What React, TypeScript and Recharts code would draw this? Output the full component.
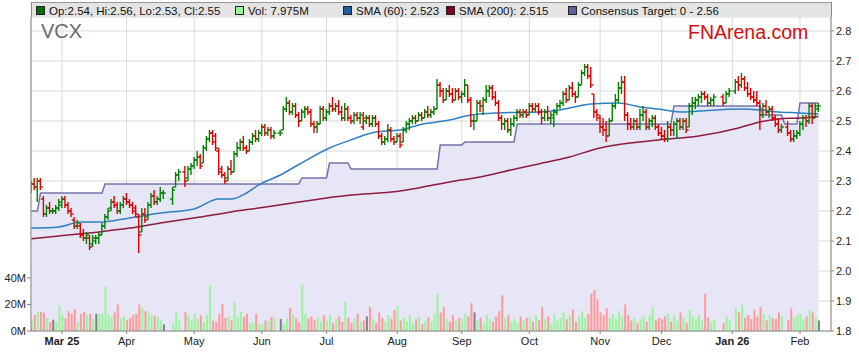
import { ComposedChart, Bar, Line, Area, XAxis, YAxis, CartesianGrid } from 'recharts'

// one entry per weekday, [open, high, low, close]; null = ASX holiday
type Ohlc = [number, number, number, number] | null

const feb25: Ohlc[] = [
  [2.27, 2.30, 2.26, 2.29], [2.29, 2.31, 2.27, 2.28], [2.28, 2.31, 2.23, 2.30], [2.30, 2.31, 2.27, 2.28],
  [2.24, 2.25, 2.18, 2.19], [2.19, 2.22, 2.18, 2.21], [2.21, 2.23, 2.19, 2.20], [2.20, 2.21, 2.19, 2.20],
  [2.20, 2.22, 2.19, 2.21], [2.21, 2.24, 2.20, 2.23],
]
const mar25: Ohlc[] = [
  [2.22, 2.25, 2.21, 2.24], [2.24, 2.25, 2.21, 2.22], [2.22, 2.23, 2.19, 2.20], [2.20, 2.21, 2.18, 2.19],
  [2.17, 2.18, 2.14, 2.15], [2.15, 2.17, 2.14, 2.16], [2.15, 2.16, 2.11, 2.12], [2.12, 2.14, 2.10, 2.11],
  [2.11, 2.13, 2.09, 2.12], [2.11, 2.12, 2.07, 2.08], [2.09, 2.12, 2.08, 2.11], [2.10, 2.12, 2.09, 2.11],
  [2.11, 2.13, 2.09, 2.12], [2.12, 2.16, 2.12, 2.15], [2.15, 2.19, 2.14, 2.18], [2.18, 2.21, 2.17, 2.20],
  [2.21, 2.24, 2.20, 2.23], [2.23, 2.25, 2.21, 2.22], [2.22, 2.23, 2.19, 2.20], [2.20, 2.23, 2.19, 2.22],
  [2.22, 2.25, 2.21, 2.24],
]
const apr25: Ohlc[] = [
  [2.24, 2.26, 2.22, 2.23], [2.23, 2.24, 2.21, 2.22], [2.22, 2.23, 2.19, 2.20], [2.21, 2.22, 2.18, 2.19],
  [2.18, 2.19, 2.06, 2.12], [2.13, 2.21, 2.13, 2.19], [2.19, 2.21, 2.16, 2.17], [2.18, 2.23, 2.17, 2.22],
  [2.22, 2.26, 2.21, 2.25], [2.25, 2.27, 2.22, 2.23], [2.23, 2.25, 2.22, 2.24], [2.24, 2.28, 2.23, 2.26],
  [2.26, 2.27, 2.24, 2.26], null, null, [2.24, 2.28, 2.22, 2.27],
  [2.28, 2.33, 2.28, 2.32], [2.32, 2.34, 2.30, 2.33], null, [2.33, 2.35, 2.28, 2.30],
  [2.31, 2.35, 2.30, 2.34], [2.34, 2.36, 2.32, 2.35],
]
const may25: Ohlc[] = [
  [2.35, 2.38, 2.34, 2.37], [2.37, 2.40, 2.35, 2.38], [2.38, 2.39, 2.34, 2.35], [2.36, 2.42, 2.36, 2.41],
  [2.41, 2.45, 2.40, 2.44], [2.44, 2.47, 2.43, 2.46], [2.46, 2.47, 2.42, 2.43], [2.45, 2.46, 2.40, 2.41],
  [2.40, 2.41, 2.32, 2.33], [2.34, 2.35, 2.31, 2.32], [2.32, 2.33, 2.29, 2.30], [2.31, 2.35, 2.30, 2.34],
  [2.34, 2.37, 2.32, 2.33], [2.33, 2.40, 2.33, 2.39], [2.39, 2.43, 2.38, 2.41], [2.41, 2.44, 2.40, 2.43],
  [2.43, 2.45, 2.40, 2.41], [2.41, 2.42, 2.39, 2.40], [2.40, 2.44, 2.40, 2.43], [2.43, 2.46, 2.42, 2.45],
  [2.45, 2.47, 2.43, 2.44], [2.44, 2.47, 2.43, 2.46],
]
const jun25: Ohlc[] = [
  [2.46, 2.49, 2.45, 2.48], [2.48, 2.49, 2.45, 2.46], [2.46, 2.48, 2.45, 2.47], [2.47, 2.48, 2.44, 2.45],
  [2.45, 2.47, 2.44, 2.46], null, [2.46, 2.47, 2.45, 2.46], [2.47, 2.55, 2.47, 2.54],
  [2.54, 2.58, 2.53, 2.56], [2.56, 2.57, 2.52, 2.53], [2.53, 2.56, 2.52, 2.55], [2.55, 2.56, 2.51, 2.52],
  [2.52, 2.53, 2.48, 2.50], [2.50, 2.54, 2.50, 2.53], [2.53, 2.55, 2.51, 2.54], [2.54, 2.55, 2.52, 2.53],
  [2.53, 2.54, 2.48, 2.49], [2.49, 2.50, 2.46, 2.48], [2.48, 2.50, 2.46, 2.49], [2.49, 2.55, 2.49, 2.54],
  [2.54, 2.55, 2.50, 2.51],
]
const jul25: Ohlc[] = [
  [2.51, 2.54, 2.50, 2.53], [2.53, 2.56, 2.52, 2.55], [2.55, 2.58, 2.53, 2.54], [2.54, 2.56, 2.53, 2.55],
  [2.55, 2.57, 2.52, 2.53], [2.53, 2.55, 2.50, 2.51], [2.51, 2.56, 2.50, 2.54], [2.54, 2.55, 2.50, 2.51],
  [2.51, 2.52, 2.49, 2.50], [2.50, 2.53, 2.49, 2.52], [2.52, 2.53, 2.50, 2.51], [2.51, 2.53, 2.49, 2.52],
  [2.48, 2.53, 2.47, 2.51], [2.50, 2.52, 2.49, 2.51], [2.51, 2.52, 2.48, 2.49], [2.49, 2.52, 2.48, 2.51],
  [2.51, 2.52, 2.48, 2.49], [2.49, 2.50, 2.44, 2.45], [2.45, 2.46, 2.42, 2.43], [2.43, 2.45, 2.42, 2.44],
  [2.44, 2.49, 2.43, 2.47], [2.47, 2.48, 2.43, 2.44], [2.44, 2.45, 2.42, 2.43],
]
const aug25: Ohlc[] = [
  [2.43, 2.46, 2.43, 2.45], [2.45, 2.46, 2.41, 2.42], [2.43, 2.48, 2.43, 2.47], [2.47, 2.50, 2.46, 2.49],
  [2.49, 2.51, 2.47, 2.50], [2.50, 2.52, 2.49, 2.51], [2.51, 2.52, 2.49, 2.50], [2.50, 2.53, 2.50, 2.52],
  [2.52, 2.53, 2.50, 2.51], [2.51, 2.54, 2.51, 2.53], [2.53, 2.55, 2.51, 2.52], [2.52, 2.54, 2.51, 2.53],
  [2.53, 2.55, 2.52, 2.54], [2.54, 2.64, 2.54, 2.62], [2.62, 2.63, 2.58, 2.60], [2.60, 2.61, 2.56, 2.57],
  [2.57, 2.61, 2.57, 2.60], [2.60, 2.62, 2.58, 2.59], [2.59, 2.61, 2.56, 2.57], [2.57, 2.61, 2.57, 2.60],
  [2.60, 2.61, 2.57, 2.58],
]
const sep25: Ohlc[] = [
  [2.58, 2.60, 2.56, 2.59], [2.59, 2.64, 2.58, 2.62], [2.62, 2.62, 2.56, 2.57], [2.57, 2.58, 2.48, 2.50],
  [2.50, 2.52, 2.47, 2.50], [2.50, 2.57, 2.50, 2.56], [2.56, 2.57, 2.53, 2.55], [2.55, 2.58, 2.52, 2.57],
  [2.57, 2.62, 2.56, 2.60], [2.60, 2.62, 2.58, 2.61], [2.61, 2.62, 2.57, 2.58], [2.58, 2.60, 2.55, 2.56],
  [2.56, 2.57, 2.50, 2.51], [2.51, 2.52, 2.47, 2.49], [2.49, 2.51, 2.47, 2.50], [2.50, 2.51, 2.46, 2.47],
  [2.47, 2.51, 2.45, 2.49], [2.49, 2.52, 2.48, 2.51], [2.51, 2.54, 2.50, 2.53], [2.53, 2.54, 2.51, 2.52],
  [2.52, 2.54, 2.51, 2.53], [2.53, 2.54, 2.51, 2.52],
]
const oct25: Ohlc[] = [
  [2.52, 2.56, 2.52, 2.55], [2.55, 2.56, 2.53, 2.54], [2.54, 2.56, 2.53, 2.55], [2.55, 2.56, 2.52, 2.53],
  [2.53, 2.54, 2.49, 2.51], [2.51, 2.54, 2.50, 2.53], [2.53, 2.55, 2.50, 2.51], [2.51, 2.53, 2.49, 2.52],
  [2.51, 2.54, 2.48, 2.53], [2.53, 2.56, 2.52, 2.55], [2.55, 2.57, 2.54, 2.56], [2.56, 2.60, 2.55, 2.59],
  [2.59, 2.61, 2.56, 2.57], [2.57, 2.62, 2.57, 2.61], [2.61, 2.63, 2.58, 2.59], [2.59, 2.60, 2.56, 2.58],
  [2.58, 2.63, 2.58, 2.62], [2.62, 2.67, 2.62, 2.66], [2.66, 2.69, 2.65, 2.68], [2.68, 2.69, 2.64, 2.65],
  [2.65, 2.68, 2.61, 2.62], [2.59, 2.59, 2.51, 2.53], [2.53, 2.54, 2.50, 2.52],
]
const nov25: Ohlc[] = [
  [2.51, 2.52, 2.46, 2.48], [2.48, 2.51, 2.45, 2.47], [2.47, 2.50, 2.43, 2.45], [2.45, 2.51, 2.45, 2.50],
  [2.50, 2.56, 2.50, 2.55], [2.55, 2.59, 2.54, 2.57], [2.57, 2.63, 2.56, 2.61], [2.61, 2.65, 2.59, 2.63],
  [2.63, 2.65, 2.50, 2.52], [2.52, 2.53, 2.47, 2.49], [2.49, 2.51, 2.47, 2.48], [2.48, 2.51, 2.47, 2.50],
  [2.50, 2.51, 2.47, 2.48], [2.48, 2.54, 2.47, 2.52], [2.52, 2.55, 2.50, 2.53], [2.53, 2.54, 2.47, 2.48],
  [2.48, 2.51, 2.47, 2.50], [2.50, 2.52, 2.48, 2.51], [2.51, 2.52, 2.47, 2.48], [2.48, 2.49, 2.45, 2.46],
]
const dec25: Ohlc[] = [
  [2.46, 2.48, 2.44, 2.45], [2.45, 2.47, 2.43, 2.44], [2.44, 2.50, 2.43, 2.48], [2.48, 2.49, 2.45, 2.47],
  [2.47, 2.50, 2.45, 2.49], [2.49, 2.51, 2.44, 2.50], [2.50, 2.51, 2.47, 2.48], [2.48, 2.51, 2.47, 2.50],
  [2.50, 2.51, 2.46, 2.47], [2.48, 2.56, 2.48, 2.55], [2.55, 2.58, 2.52, 2.56], [2.56, 2.58, 2.54, 2.57],
  [2.57, 2.59, 2.55, 2.58], [2.58, 2.60, 2.56, 2.59], [2.59, 2.60, 2.57, 2.58], [2.58, 2.59, 2.55, 2.56],
  [2.56, 2.58, 2.55, 2.57], [2.57, 2.59, 2.55, 2.58], null, null,
  [2.58, 2.59, 2.55, 2.56], [2.56, 2.60, 2.56, 2.59], [2.59, 2.61, 2.58, 2.60],
]
const jan26: Ohlc[] = [
  null, [2.60, 2.64, 2.59, 2.63], [2.63, 2.65, 2.60, 2.62], [2.62, 2.66, 2.61, 2.64],
  [2.64, 2.65, 2.60, 2.61], [2.61, 2.63, 2.58, 2.59], [2.59, 2.61, 2.57, 2.58], [2.58, 2.60, 2.56, 2.57],
  [2.57, 2.60, 2.55, 2.56], [2.56, 2.57, 2.47, 2.52], [2.52, 2.56, 2.51, 2.55], [2.55, 2.57, 2.52, 2.53],
  [2.53, 2.55, 2.51, 2.54], [2.54, 2.55, 2.50, 2.51], [2.51, 2.52, 2.48, 2.49], [2.49, 2.51, 2.46, 2.47],
  [2.47, 2.49, 2.46, 2.48], null, [2.48, 2.50, 2.45, 2.46], [2.46, 2.47, 2.43, 2.44],
  [2.44, 2.47, 2.43, 2.45], [2.45, 2.47, 2.44, 2.46],
]
const feb26: Ohlc[] = [
  [2.46, 2.50, 2.45, 2.49], [2.49, 2.52, 2.47, 2.51], [2.51, 2.52, 2.48, 2.50], [2.50, 2.56, 2.49, 2.55],
  [2.55, 2.56, 2.49, 2.51], [2.51, 2.56, 2.51, 2.55], [2.54, 2.56, 2.53, 2.55],
]

// volume in millions of shares
const volFeb25 = [8.6, 12.1, 15, 14.5, 13.8, 9.8, 6.7, 8.6, 6.7, 19.3]
const volMar25 = [12.1, 9.8, 15, 12.9, 16.4, 6.7, 12.9, 14.3, 12.1, 12.9, 9, 12.9, 12.9, 12.9, 33.6, 12.6, 10.5, 13.8, 20, 9.8, 11]
const volApr25 = [8, 9.8, 12.1, 12.9, 20, 17.4, 15, 13.8, 11.7, 11.4, 10.5, 8, 5, null, null, 5.7, 14, 7.9, null, 14.5, 12.1, 7.9]
const volMay25 = [12.9, 9, 11.7, 6.7, 12.1, 34.3, 7.9, 6.7, 12.9, 20.5, 9.8, 11, 7.9, 21.7, 10.5, 14.3, 10.5, 12.9, 5.5, 6.7, 12.9, 5.7]
const volJun25 = [5.5, 7.9, 7.9, 10.5, 9.8, null, 9, 5, 9.4, 17.4, 12.3, 9.5, 6.7, 35, 12.9, 9.5, 11, 8, 10, 7, 12]
const volJul25 = [8, 12, 6, 9, 11, 7, 22, 10, 6, 9, 13, 7, 8, 11, 18, 9, 6, 14, 10, 7, 12, 9, 16]
const volAug25 = [19, 8, 10, 7, 12, 6, 9, 11, 5, 8, 10, 7, 13, 28, 14, 18, 9, 7, 12, 8, 10]
const volSep25 = [9, 13, 11, 21, 14, 8, 10, 6, 12, 9, 7, 11, 15, 27, 10, 12, 7, 9, 6, 11, 8, 10]
const volOct25 = [10, 7, 12, 8, 18, 9, 11, 6, 13, 8, 10, 14, 9, 12, 16, 7, 11, 15, 10, 13, 28, 31, 24]
const volNov25 = [14, 12, 17, 10, 13, 9, 15, 11, 20, 12, 8, 10, 6, 9, 11, 7, 12, 18, 8, 10]
const volDec25 = [9, 11, 13, 7, 12, 8, 14, 10, 6, 16, 11, 9, 12, 8, 28, 10, 7, 9, null, null, 6, 11, 8]
const volJan26 = [null, 17, 14, 20, 10, 12, 9, 16, 11, 18, 13, 8, 12, 10, 9, 14, 11, null, 8, 17, 10, 12]
const volFeb26 = [13, 9, 11, 16, 14, 10, 7.975]

// month gridlines: one label per month array after the first
const monthLabels = ['Mar 25', 'Apr', 'May', 'Jun', 'Jul', 'Aug', 'Sep', 'Oct', 'Nov', 'Dec', 'Jan 26', 'Feb']

// moving averages at [day index, value]
const sma60Points: [number, number][] = [
  [0, 2.143], [9, 2.147], [16, 2.163], [22, 2.163], [32, 2.177], [42, 2.193], [53, 2.207], [61, 2.24],
  [65, 2.24], [70, 2.26], [74, 2.287], [81, 2.32], [87, 2.355], [97, 2.41], [104, 2.437], [112, 2.463],
  [120, 2.47], [126, 2.487], [136, 2.503], [143, 2.52], [152, 2.527], [165, 2.53], [172, 2.537],
  [178, 2.55], [182, 2.557], [191, 2.56], [198, 2.547], [204, 2.54], [211, 2.53], [217, 2.533],
  [230, 2.54], [237, 2.537], [243, 2.53], [250, 2.527], [256, 2.523],
]
const sma200Points: [number, number][] = [
  [0, 2.107], [9, 2.117], [22, 2.13], [32, 2.143], [42, 2.16], [55, 2.18], [65, 2.197], [74, 2.21],
  [87, 2.23], [104, 2.253], [117, 2.263], [126, 2.277], [136, 2.297], [146, 2.313], [156, 2.337],
  [165, 2.357], [175, 2.38], [185, 2.41], [195, 2.427], [204, 2.437], [217, 2.45], [230, 2.477],
  [237, 2.497], [243, 2.507], [250, 2.51], [256, 2.515],
]
// consensus target: [first day index, target]
const targetSteps: [number, number][] = [
  [0, 2.2], [3, 2.26], [24, 2.29], [88, 2.31], [97, 2.36], [104, 2.34], [133, 2.42], [141, 2.43],
  [158, 2.49], [209, 2.55], [238, 2.52], [245, 2.49], [250, 2.56],
]

const priceMonths = [feb25, mar25, apr25, may25, jun25, jul25, aug25, sep25, oct25, nov25, dec25, jan26, feb26]
const volMonths = [volFeb25, volMar25, volApr25, volMay25, volJun25, volJul25, volAug25, volSep25, volOct25, volNov25, volDec25, volJan26, volFeb26]

const FONT = '"Liberation Sans", Arial, sans-serif'
const UP = '#008000'
const DOWN = '#dd0000'

const bars = priceMonths.flat()
const volumes = volMonths.flat()

const monthTicks: number[] = []
{
  let start = 0
  priceMonths.forEach((m, k) => {
    if (k > 0) monthTicks.push(start)
    start += m.length
  })
}
const tickLabel = new Map(monthTicks.map((t, k) => [t, monthLabels[k]]))

function buildRows() {
  const sma60 = new Map(sma60Points)
  const sma200 = new Map(sma200Points)
  let prevClose: number | null = null
  return bars.map((b, i) => {
    let target = targetSteps[0][1]
    for (const [s, v] of targetSteps) if (s <= i) target = v
    const row: Record<string, unknown> = {
      i,
      target,
      sma60: sma60.get(i),
      sma200: sma200.get(i),
      vol: volumes[i] ?? undefined,
    }
    if (b) {
      const [o, h, l, c] = b
      const diff = prevClose == null ? c - o : c - prevClose
      row.range = [l, h]
      row.open = o
      row.close = c
      row.dir = Math.abs(diff) < 1e-9 ? 0 : Math.sign(diff)
      row.up = c >= o
      prevClose = c
    }
    return row
  })
}

const data = buildRows()
const last = bars[bars.length - 1] as [number, number, number, number]

function OhlcShape(props: any) {
  const { x, y, width, height, payload } = props
  if (!payload || !payload.range) return null
  const [lo, hi] = payload.range
  const cx = x + width / 2
  const span = hi - lo
  const toY = (v: number) => (span > 0 ? y + ((hi - v) / span) * height : y)
  const color = payload.dir > 0 || (payload.dir === 0 && payload.up) ? UP : DOWN
  const yo = toY(payload.open)
  const yc = toY(payload.close)
  return (
    <g stroke={color} strokeWidth={1.4}>
      <line x1={cx} x2={cx} y1={y} y2={y + Math.max(height, 1)} />
      <line x1={cx - 2.5} x2={cx} y1={yo} y2={yo} />
      <line x1={cx} x2={cx + 2.5} y1={yc} y2={yc} />
    </g>
  )
}

function VolShape(props: any) {
  const { x, y, width, height, payload } = props
  if (!payload || payload.vol == null) return null
  const fill = payload.dir > 0 ? '#99f599' : payload.dir < 0 ? '#ff9a9a' : '#808080'
  return <rect x={x} y={y} width={width} height={height} fill={fill} />
}

function MonthTick(props: any) {
  const { x, y, payload } = props
  const label = tickLabel.get(payload.value) ?? ''
  const bold = label.includes(' ')
  return (
    <text x={x} y={y + 9} textAnchor="middle" fontSize={11} fontFamily={FONT}
      fontWeight={bold ? 700 : 400} fill="#222">
      {label}
    </text>
  )
}

function LegendItem({ left, color, text }: { left: number; color: string; text: string }) {
  return (
    <div style={{ position: 'absolute', left, top: 0, height: 15, display: 'flex', alignItems: 'center' }}>
      <span style={{ width: 7, height: 7, background: color, border: '1px solid #222', marginRight: 4 }} />
      <span style={{ fontSize: 11.5, color: '#111', whiteSpace: 'nowrap' }}>{text}</span>
    </div>
  )
}

export default function App() {
  const xDomain = [-0.08, 260.08]
  return (
    <div style={{ position: 'absolute', left: 0, top: 0, width: 859, height: 363, background: '#fff', fontFamily: FONT }}>
      <ComposedChart width={859} height={363} data={data} margin={{ top: 17, right: 0, bottom: 0, left: 0 }}>
        <CartesianGrid xAxisId="main" yAxisId="price" stroke="#d9d9d9" strokeWidth={1} />
        <XAxis xAxisId="main" dataKey="i" type="number" domain={xDomain} allowDataOverflow
          ticks={monthTicks} interval={0} height={32} tickSize={3} tickMargin={2}
          tick={<MonthTick />} stroke="#888" axisLine={{ stroke: '#888' }} tickLine={{ stroke: '#888' }} />
        <XAxis xAxisId="vol" dataKey="i" type="number" domain={xDomain} allowDataOverflow hide />
        <YAxis yAxisId="vol" orientation="left" width={31} domain={[0, 237]} allowDataOverflow
          ticks={[0, 20, 40]} tickFormatter={(v: number) => `${v}M`} tickSize={4} tickMargin={1}
          tick={{ fontSize: 11, fill: '#222', fontFamily: FONT }} axisLine={{ stroke: '#888' }} tickLine={{ stroke: '#888' }} />
        <YAxis yAxisId="price" orientation="right" width={28} domain={[1.8, 2.8467]} allowDataOverflow
          ticks={[1.8, 1.9, 2.0, 2.1, 2.2, 2.3, 2.4, 2.5, 2.6, 2.7, 2.8]} tickFormatter={(v: number) => v.toFixed(1)}
          tickSize={3} tickMargin={2} tick={{ fontSize: 11, fill: '#222', fontFamily: FONT }}
          axisLine={{ stroke: '#888' }} tickLine={{ stroke: '#888' }} />
        <Area xAxisId="main" yAxisId="price" dataKey="target" type="linear" stroke="#7373aa" strokeWidth={1.5}
          fill="#e6e6f6" fillOpacity={1} isAnimationActive={false} dot={false} activeDot={false} />
        <Bar xAxisId="vol" yAxisId="vol" dataKey="vol" barSize={2} shape={<VolShape />} isAnimationActive={false} />
        <Line xAxisId="main" yAxisId="price" dataKey="sma200" type="monotone" stroke="#8c1c40" strokeWidth={1.5}
          dot={false} activeDot={false} connectNulls isAnimationActive={false} />
        <Line xAxisId="main" yAxisId="price" dataKey="sma60" type="monotone" stroke="#2f80c2" strokeWidth={1.5}
          dot={false} activeDot={false} connectNulls isAnimationActive={false} />
        <Bar xAxisId="main" yAxisId="price" dataKey="range" barSize={4} shape={<OhlcShape />}
          isAnimationActive={false} zIndex={450} />
      </ComposedChart>

      {/* legend strip */}
      <div style={{ position: 'absolute', left: 31, top: 2, width: 801, height: 15, background: '#e4e4e4',
        borderTop: '1px solid #999', borderLeft: '1px solid #888', borderRight: '1px solid #888', boxSizing: 'border-box' }}>
        <LegendItem left={4} color="#006f00" text={`Op:${last[0].toFixed(2)}, Hi:${last[1].toFixed(2)}, Lo:${last[2].toFixed(2)}, Cl:${last[3].toFixed(2)}`} />
        <LegendItem left={203} color="#99f599" text={`Vol: ${volFeb26[volFeb26.length - 1].toFixed(3)}M`} />
        <LegendItem left={311} color="#1f5fa0" text={`SMA (60): ${sma60Points[sma60Points.length - 1][1]}`} />
        <LegendItem left={414} color="#800020" text={`SMA (200): ${sma200Points[sma200Points.length - 1][1]}`} />
        <LegendItem left={536} color="#6060a0" text={`Consensus Target: 0 - ${targetSteps[targetSteps.length - 1][1]}`} />
      </div>

      <div style={{ position: 'absolute', left: 41, top: 20, fontSize: 20, color: '#6a6a6a', lineHeight: '22px' }}>VCX</div>
      <div style={{ position: 'absolute', left: 688, top: 21, fontSize: 19.5, color: '#d40f0f', lineHeight: '22px' }}>FNArena.com</div>
    </div>
  )
}
